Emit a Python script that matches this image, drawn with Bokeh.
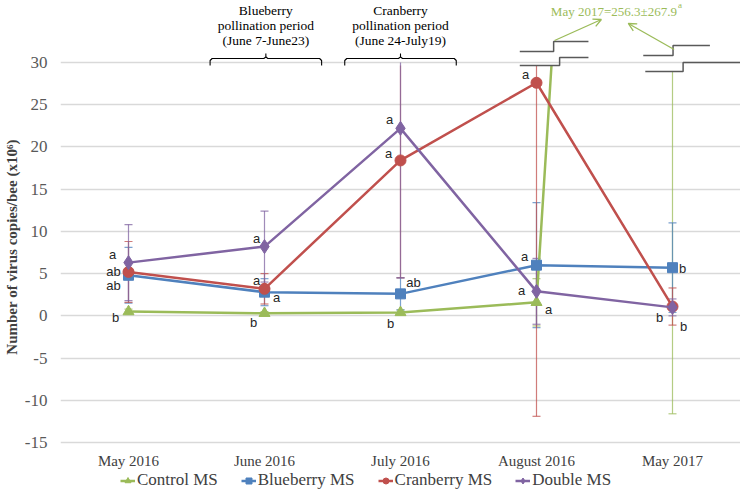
import math
from bokeh.plotting import figure
from bokeh.models import (ColumnDataSource, FixedTicker, Legend, LegendItem, Arrow,
                          OpenHead, Range1d)
from bokeh.core.properties import value
from bokeh.embed import file_html
from bokeh.resources import INLINE

# ---------------- data ----------------
categories = ["May 2016", "June 2016", "July 2016", "August 2016", "May 2017"]
series_names = ["Control MS", "Blueberry MS", "Cranberry MS", "Double MS"]

control = [0.5, 0.3, 0.4, 1.6, 256.3]
control_err = [0.3, 0.2, 0.3, 2.8, 267.9]
blueberry = [4.8, 2.8, 2.6, 6.0, 5.7]
blueberry_err = [3.3, 1.6, 1.9, 7.4, 5.3]
cranberry = [5.2, 3.2, 18.4, 27.6, 1.1]
cranberry_err = [3.6, 1.8, 13.9, 39.5, 2.2]
double = [6.3, 8.2, 22.2, 2.9, 1.0]
double_err = [4.5, 4.2, 17.7, 3.9, 1.0]

control_letters = ["b", "b", "b", "a", ""]
blueberry_letters = ["ab", "a", "ab", "a", "b"]
cranberry_letters = ["ab", "a", "a", "a", "b"]
double_letters = ["a", "a", "a", "a", "b"]

y_ticks = [-15, -10, -5, 0, 5, 10, 15, 20, 25, 30]
y_tick_labels = ["-15", "-10", "-5", "0", "5", "10", "15", "20", "25", "30"]

may2017_note = "May 2017=256.3\u00b1267.9"
note_sup = "a"
blue_period = ["Blueberry", "pollination period", "(June 7-June23)"]
cran_period = ["Cranberry", "pollination period", "(June 24-July19)"]

# ---------------- styles ----------------
GREEN, BLUE, RED, PURPLE = "#9BBB59", "#4F81BD", "#C0504D", "#8064A2"
SERIF = "Liberation Serif"

W, H = 740, 493
BL = 57
Y0, Y1 = -21.04, 37.34
PXU = H / (Y1 - Y0)          # pixels per y unit


def up(px):
    """y value that is `px` screen pixels above the 30 gridline"""
    return 30 + px / PXU


p = figure(width=W, height=H, output_backend="svg", toolbar_location=None,
           x_range=Range1d(-0.5, 4.5), y_range=Range1d(Y0, Y1),
           min_border_left=BL, min_border_right=0, min_border_top=0,
           min_border_bottom=0)
p.outline_line_color = None
p.background_fill_color = "white"

# axes
p.yaxis.ticker = FixedTicker(ticks=y_ticks)
p.yaxis.major_label_overrides = {t: s for t, s in zip(y_ticks, y_tick_labels)}
p.yaxis.axis_line_color = None
p.yaxis.major_tick_line_color = None
p.yaxis.minor_tick_line_color = None
p.yaxis.major_tick_out = 0
p.yaxis.major_tick_in = 0
p.yaxis.major_label_standoff = 13
p.yaxis.major_label_text_font = SERIF
p.yaxis.major_label_text_font_size = "17px"
p.yaxis.major_label_text_color = "#595959"
p.yaxis.axis_label = "Number of virus copies/bee (x10\u2076)"
p.yaxis.axis_label_text_font = SERIF
p.yaxis.axis_label_text_font_style = "bold"
p.yaxis.axis_label_text_font_size = "15px"
p.yaxis.axis_label_text_color = "#404040"
p.yaxis.axis_label_standoff = 2

xt = list(range(len(categories)))
p.xaxis.ticker = FixedTicker(ticks=xt)
p.xaxis.fixed_location = y_ticks[0]
p.xaxis.major_label_overrides = {i: c for i, c in zip(xt, categories)}
p.xaxis.axis_line_color = None
p.xaxis.major_tick_line_color = None
p.xaxis.minor_tick_line_color = None
p.xaxis.major_tick_out = 0
p.xaxis.major_tick_in = 0
p.xaxis.major_label_standoff = 11
p.xaxis.major_label_text_font = SERIF
p.xaxis.major_label_text_font_size = "15px"
p.xaxis.major_label_text_color = "#404040"

p.xgrid.grid_line_color = None
p.ygrid.grid_line_color = "#D9D9D9"
p.ygrid.grid_line_width = 1.3


def clip_line(xs, ys, top):
    ox, oy = [], []
    for i in range(len(xs)):
        if i > 0 and (ys[i - 1] > top) != (ys[i] > top):
            t = (top - ys[i - 1]) / (ys[i] - ys[i - 1])
            ox.append(xs[i - 1] + t * (xs[i] - xs[i - 1]))
            oy.append(top)
        if ys[i] <= top:
            ox.append(xs[i]); oy.append(ys[i])
        elif i > 0 and ys[i - 1] <= top:
            ox.append(math.nan); oy.append(math.nan)
    return ox, oy


def add_err(vals, errs, color, clip):
    lo = [v - e for v, e in zip(vals, errs)]
    hi = [v + e for v, e in zip(vals, errs)]
    hi_c = [min(h, clip) for h in hi]
    p.segment(x0=xt, y0=lo, x1=xt, y1=hi_c, line_color=color, line_width=1.2,
              line_alpha=0.75)
    cx = xt + [x for x, h in zip(xt, hi) if h <= clip]
    cy = lo + [h for h in hi if h <= clip]
    p.scatter(cx, cy, marker="dash", size=8, line_color=color, line_width=1.2,
              line_alpha=0.75)


specs = [
    (control, control_err, GREEN, "triangle", 11, up(-3), up(-9)),
    (blueberry, blueberry_err, BLUE, "square", 10, up(-3), 30),
    (cranberry, cranberry_err, RED, "circle", 11, up(-3), up(-3)),
    (double, double_err, PURPLE, "diamond", 14, up(-3), 30),
]

for vals, errs, color, mk, sz, lclip, eclip in specs:
    add_err(vals, errs, color, eclip)

items = []
for (vals, errs, color, mk, sz, lclip, eclip), name in zip(specs, series_names):
    lx, ly = clip_line(xt, vals, lclip)
    lr = p.line(lx, ly, line_color=color, line_width=2.5)
    mx = [x for x, v in zip(xt, vals) if v <= lclip]
    my = [v for v in vals if v <= lclip]
    sr = p.scatter(mx, my, marker=mk, size=sz, fill_color=color, line_color=color)
    items.append(LegendItem(label=name, renderers=[lr, sr]))

# significance letters (offsets in screen px: right, down)
letter_offsets = [
    [(-13, 6), (-11, 9), (-10, 11), (12, 7), (0, 0)],
    [(-15, 10), (12, 5), (13, -11), (-12, -9), (10, 1)],
    [(-15, 0), (-8, -8), (-12, -7), (-11, -8), (11, 20)],
    [(-16, -8), (-8, -8), (-11, -9), (-15, -1), (-13, 10)],
]
lab = dict(x=[], y=[], t=[], dx=[], dy=[])
for (vals, *_), letters, offs in zip(specs, [control_letters, blueberry_letters,
                                             cranberry_letters, double_letters],
                                     letter_offsets):
    for x, v, t, (dx, dy) in zip(xt, vals, letters, offs):
        if t and v <= 30:
            lab["x"].append(x); lab["y"].append(v); lab["t"].append(t)
            lab["dx"].append(dx); lab["dy"].append(dy)
p.text(x="x", y="y", text="t", x_offset="dx", y_offset="dy",
       source=ColumnDataSource(lab), text_font=value("Liberation Sans"),
       text_font_size="13px", text_align="center", text_baseline="middle",
       text_color="#262626")

# pollination period brackets
for cat, lines in [(1, blue_period), (2, cran_period)]:
    xc = cat + 0.01 if cat == 1 else cat
    x0, x1 = xc - 0.41, xc + 0.41
    d = 0.015
    p.multi_line(
        xs=[[x0, x0, x0 + d, xc - d, xc, xc], [x1, x1, x1 - d, xc + d, xc]],
        ys=[[up(-3), up(2), up(4), up(4), up(5.5), up(9)],
            [up(-3), up(2), up(4), up(4), up(5.5)]],
        line_color="#000000", line_width=1.1)
    p.text(x=[xc] * 3, y=[up(52), up(37), up(22)], text=lines,
           text_font=value(SERIF), text_font_size="13.5px", text_align="center",
           text_baseline="middle", text_color="#000000")

# axis-break marks
brk_color = "#595959"
p.multi_line(
    xs=[[2.877, 3.126, 3.126, 3.382], [2.877, 3.17, 3.17, 3.382],
        [3.785, 4.004, 4.004, 4.275], [3.8, 4.078, 4.078, 4.5]],
    ys=[[up(11), up(11), up(21), up(21)], [up(-3), up(-3), up(5), up(5)],
        [up(7), up(7), up(17), up(17)], [up(-9), up(-9), up(0), up(0)]],
    line_color=brk_color, line_width=1.5)

# May 2017 note and arrows
p.text(x=[3.569], y=[up(51)], text=[may2017_note], text_font=value(SERIF),
       text_font_size="13px", text_align="center", text_baseline="middle",
       text_color=GREEN)
p.text(x=[4.056], y=[up(57.5)], text=[note_sup], text_font=value(SERIF),
       text_font_size="9px", text_align="center", text_baseline="middle",
       text_color=GREEN)
p.add_layout(Arrow(end=OpenHead(size=8, line_color=GREEN, line_width=1.3),
                   x_start=3.133, y_start=up(22), x_end=3.477, y_end=up(43),
                   line_color=GREEN, line_width=1.3))
p.add_layout(Arrow(end=OpenHead(size=8, line_color=GREEN, line_width=1.3),
                   x_start=4.012, y_start=up(13), x_end=3.675, y_end=up(39),
                   line_color=GREEN, line_width=1.3))

legend = Legend(items=items, orientation="horizontal", location=(60, 3),
                label_text_font=SERIF, label_text_font_size="17px",
                label_text_color="#404040", glyph_width=15, glyph_height=15,
                label_standoff=2, spacing=23, padding=0, margin=0,
                border_line_color=None, background_fill_alpha=0)
p.add_layout(legend, "center")

open("out.html", "w").write(file_html(p, INLINE))
